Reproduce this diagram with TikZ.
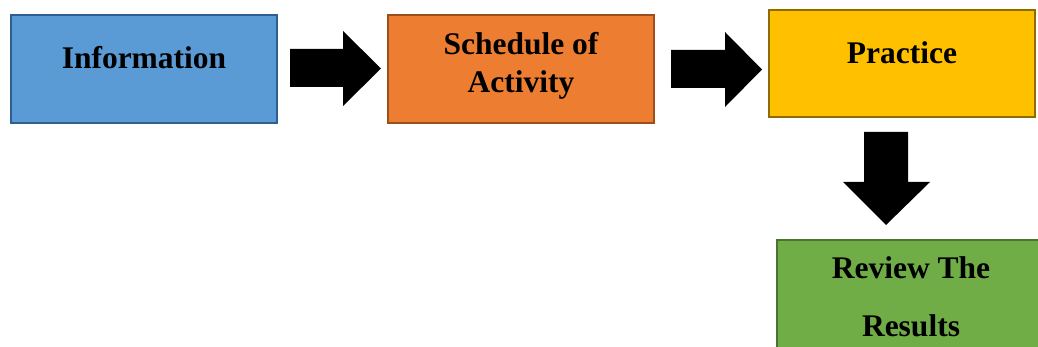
\documentclass[tikz,border=0pt]{standalone}
\usepackage{fontspec}
\setmainfont{Liberation Serif}
\definecolor{bluef}{HTML}{5B9BD5}\definecolor{blued}{HTML}{2F5F8F}
\definecolor{orangef}{HTML}{ED7D31}\definecolor{oranged}{HTML}{9C4F1C}
\definecolor{goldf}{HTML}{FFC000}\definecolor{goldd}{HTML}{8F6C00}
\definecolor{greenf}{HTML}{70AD47}\definecolor{greend}{HTML}{4A7330}
\begin{document}
\begin{tikzpicture}[x=1pt,y=-1pt,
  box/.style={rectangle,line width=2pt,inner sep=0pt,outer sep=0pt},
  lbl/.style={anchor=base,font=\bfseries\fontsize{31.5}{38}\selectfont,inner sep=0pt},
  blockarrow/.style={fill=black,draw=none}]
\useasboundingbox (0,0) rectangle (1038,347);
\node[box,fill=bluef,draw=blued,minimum width=266pt,minimum height=108pt] (info) at (144,69.5) {};
\node[box,fill=orangef,draw=oranged,minimum width=266pt,minimum height=108pt] (sched) at (521,69) {};
\node[box,fill=goldf,draw=goldd,minimum width=266pt,minimum height=107pt] (prac) at (902,63.5) {};
\node[box,fill=greenf,draw=greend,minimum width=266pt,minimum height=120pt,anchor=north west] (rev) at (777,240) {};
\node[lbl] (t1) at (144,69) {Information};
\node[lbl] (t2) at (521,55) {Schedule of};
\node[lbl] (t3) at (521,93) {Activity};
\node[lbl] (t4) at (902,64) {Practice};
\node[lbl] (t5) at (911,279) {Review The};
\node[lbl] (t6) at (911,336) {Results};
\fill[blockarrow] (290,49) -- (343,49) -- (343,31) -- (381,68.5) -- (343,106) -- (343,87) -- (290,87) -- cycle;
\fill[blockarrow] (671,50) -- (725,50) -- (725,32) -- (762,69.5) -- (725,107) -- (725,88) -- (671,88) -- cycle;
\fill[blockarrow] (864,132) -- (908,132) -- (908,182) -- (930,182) -- (886,225) -- (843,182) -- (864,182) -- cycle;
\end{tikzpicture}
\end{document}
